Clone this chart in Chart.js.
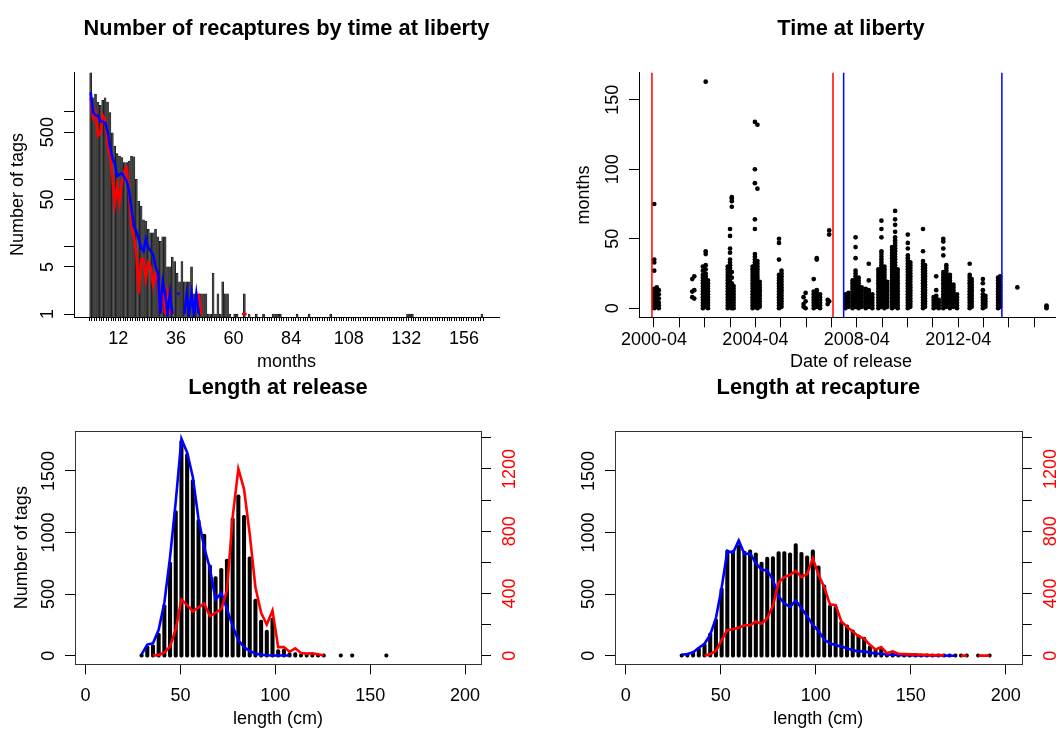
<!DOCTYPE html>
<html>
<head>
<meta charset="utf-8">
<script src="https://cdn.jsdelivr.net/npm/chart.js@4.4.1/dist/chart.umd.min.js"></script>
<style>
  html, body { margin: 0; padding: 0; background: #fff; width: 1056px; height: 729px; overflow: hidden; }
  canvas { position: absolute; left: 0; top: 0; }
</style>
</head>
<body>
<canvas id="c1" width="1100" height="729"></canvas>
<canvas id="c2" width="1100" height="729"></canvas>
<canvas id="c3" width="1100" height="729"></canvas>
<canvas id="c4" width="1100" height="729"></canvas>
<script>
// ---- panel 1: recaptures by months at liberty (log axis) ----
const recapCounts = [3800, 1620, 1820, 1400, 1250, 1480, 1620, 1400, 975, 490,
  310, 240, 220, 210, 176, 176, 186, 220, 215, 100,
  47, 40, 25, 24, 18, 16, 16, 18, 14, 12,
  14, 14, 5, 5, 7, 6, 4, 3, 6, 3,
  3, 3, 5, 2, 2, 2, 2, 2, 2, 1,
  1, 4, 1, 2, 1, 3, 2, 2];
const tailMonths = [59, 61, 62, 65, 67, 70, 73, 77, 78, 79, 80, 87, 92, 101, 133, 134, 135, 164];
const tailCounts = [1, 1, 1, 2, 1, 1, 1, 1, 1, 1, 1, 1, 1, 1, 1, 1, 1, 1];
const blueMonthly = [1960, 980, 890, 870, 730, 710, 690, 520, 310, 210,
  175, 112, 118, 122, 106, 94, 67, 36, 20, 17,
  13, 9.6, 8.6, 13, 9.6, 8.6, 7.7, 5, 4, 1,
  3, 2, 1, 2, 1, null, 2, 2, null, 1,
  2, 1, 2, 1, 2, 1];
const redMonthly = [1620, 820, 970, 440, 490, 890, 775, 350, 220, 112,
  42, 80, 45, 92, 131, 148, 63, 20, 14, 8,
  2, 6.5, 6.5, 3.3, 5.8, 5, 2.7, 4, 3, 1,
  3, 1, 2, 1, null, null, null, null, null, null,
  null, null, null, null, null, 2, 1, null, null, null,
  null, null, null, null, null, null, null, null, null, null,
  null, null, null, 1, 1, 1];
const logTicks = [1, 5, 10, 50, 100, 500, 1000];
const logLabels = [1, 5, 50, 500];
const monthLabels = [12, 36, 60, 84, 108, 132, 156];

// ---- panel 2: time at liberty by release date ----
const relDate = [2000.26, 2000.36, 2000.44, 2001.76, 2001.84, 2002.18, 2002.29, 2002.38,
  2003.16, 2003.25, 2003.32, 2003.39, 2004.14, 2004.23, 2004.33, 2004.42, 2005.18, 2005.28,
  2006.15, 2006.23, 2006.55, 2006.67, 2006.8, 2007.1, 2007.16, 2007.8, 2007.92,
  2008.08, 2008.2, 2008.32, 2008.44, 2008.6, 2008.72, 2008.86,
  2009.1, 2009.22, 2009.34, 2009.45, 2009.64, 2009.76, 2009.86,
  2010.26, 2010.36, 2010.86, 2010.94, 2011.28, 2011.38, 2011.48,
  2011.66, 2011.78, 2011.92, 2012.06, 2012.2, 2012.7, 2012.78,
  2013.22, 2013.32, 2013.82, 2013.9, 2014.58, 2015.73];
const libMonths = [
  [0, 2, 4, 6, 8, 10, 12, 14, 27, 33, 35, 75],
  [1, 3, 5, 7, 9, 11, 13, 15],
  [0, 2, 4, 7, 10, 13],
  [8, 12, 21],
  [7, 13, 23],
  [0, 2, 4, 6, 8, 10, 12, 14, 16, 18, 20, 22, 24, 27, 30],
  [1, 3, 5, 7, 9, 11, 13, 15, 17, 19, 21, 23, 25, 28, 31, 39, 41, 163],
  [0, 2, 4, 6, 8, 10, 12, 14, 16, 18, 20],
  [0, 2, 4, 6, 8, 10, 12, 14, 16, 18, 20, 22, 24, 26, 28, 30],
  [1, 3, 5, 7, 9, 11, 13, 15, 17, 19, 21, 23, 25, 27, 29, 31, 33, 35, 40, 43, 52, 57],
  [0, 3, 6, 9, 12, 15, 18, 22, 26, 73, 77, 79, 80],
  [0, 2, 4, 6, 8, 10, 12, 14, 16],
  [0, 2, 4, 6, 8, 10, 12, 14, 16, 18, 20, 22, 24, 26, 28, 30],
  [1, 3, 5, 7, 9, 11, 13, 15, 17, 19, 21, 23, 25, 27, 29, 31, 33, 35, 37, 39, 57, 64, 90, 100, 134],
  [0, 2, 4, 6, 8, 10, 12, 14, 16, 18, 20, 22, 24, 26, 28, 30, 32, 34, 86, 132],
  [1, 3, 5, 7, 9, 11, 13, 15, 17, 19],
  [0, 2, 4, 6, 8, 10, 12, 14, 16, 18, 20, 22, 24, 35, 47, 50],
  [1, 3, 5, 7, 9, 11, 13, 15, 17, 19, 21, 23, 25, 27],
  [1, 3, 8],
  [0, 5, 11],
  [0, 2, 4, 6, 8, 10, 12, 21],
  [1, 3, 5, 7, 9, 11, 13, 35, 36],
  [0, 2, 4, 6, 8, 10],
  [3, 6],
  [5, 53, 56],
  [0, 2, 4, 6, 8, 10],
  [1, 3, 5, 7, 9, 11],
  [0, 2, 4, 6, 8, 10, 12, 14, 16, 18, 20],
  [1, 3, 5, 7, 9, 11, 13, 15, 17, 19, 21, 23, 25, 27, 36, 44, 51],
  [0, 2, 4, 6, 8, 10, 12, 14, 16, 18, 20, 22],
  [1, 3, 5, 7, 9, 11, 13, 15],
  [0, 2, 4, 6, 8, 10, 12, 14],
  [1, 3, 5, 7, 9, 11, 13, 20, 32],
  [0, 2, 4, 6, 8, 10],
  [0, 2, 4, 6, 8, 10, 12, 14, 16, 18, 20, 22, 24, 26, 28],
  [1, 3, 5, 7, 9, 11, 13, 15, 17, 19, 21, 23, 25, 27, 29, 31, 33, 35, 37, 39, 41, 51, 57, 63],
  [0, 2, 4, 6, 8, 10, 12, 14, 16, 18, 20, 22, 24, 26, 28, 30],
  [1, 3, 5, 7, 9, 11, 13, 15, 17, 19],
  [0, 2, 4, 6, 8, 10, 12, 14, 16, 18, 20, 22, 24, 26, 28, 30, 32, 34, 36, 38, 40, 42, 44],
  [1, 3, 5, 7, 9, 11, 13, 15, 17, 19, 21, 23, 25, 27, 29, 31, 33, 35, 37, 39, 41, 43, 45, 47, 49, 51, 55, 60, 64, 70],
  [0, 2, 4, 6, 8, 10, 12, 14, 16, 18, 20, 22, 24, 26, 28],
  [0, 2, 4, 6, 8, 10, 12, 14, 16, 18, 20, 22, 24, 26, 28, 30, 32, 34, 36, 38, 43, 47, 53],
  [1, 3, 5, 7, 9, 11, 13, 15, 17, 19, 21, 23, 25, 27, 29, 31, 33],
  [0, 2, 4, 6, 8, 10, 12, 14, 16, 18, 20, 22, 24, 26, 28, 30, 32, 34, 41, 57],
  [1, 3, 5, 7, 9, 11, 13, 15, 17, 19, 21, 23, 25, 27, 29, 31],
  [0, 2, 4, 6, 8],
  [1, 3, 5, 7, 9, 13, 23],
  [0, 2, 4, 6],
  [0, 2, 4, 6, 8, 10, 12, 14, 16, 18, 20, 22, 24, 26, 38, 43, 48, 50],
  [1, 3, 5, 7, 9, 11, 13, 15, 17, 19, 21, 23, 25, 27, 29, 31],
  [0, 2, 4, 6, 8, 10, 12, 14, 16, 18, 20, 22, 24],
  [1, 3, 5, 7, 9, 11, 13, 15, 17],
  [0, 2, 4, 6, 8, 10],
  [0, 2, 4, 6, 8, 10, 12, 14, 16, 18, 20, 22, 24, 32],
  [1, 3, 5, 7, 9, 11, 13, 15, 17, 19, 21],
  [0, 2, 4, 6, 8, 10, 13, 18, 21],
  [1, 3, 5, 7, 9],
  [0, 2, 4, 6, 8, 10, 12, 14, 16, 18, 20, 22],
  [1, 3, 5, 7, 9, 11, 13, 15, 17, 19, 21, 23],
  [15],
  [0, 1, 2]
];
const cutRed = [2000.17, 2007.31];
const cutBlue = [2007.73, 2013.97];
const yearTicks = [2000.25, 2001.25, 2002.25, 2003.25, 2004.25, 2005.25, 2006.25, 2007.25,
  2008.25, 2009.25, 2010.25, 2011.25, 2012.25, 2013.25, 2014.25, 2015.25, 2016.25];
const yearLabelAt = [2000.25, 2004.25, 2008.25, 2012.25];
const yearLabels = ['2000-04', '2004-04', '2008-04', '2012-04'];
const libTicks = [0, 50, 100, 150];

// ---- panels 3 & 4: length frequencies (3 cm classes) ----
const lenBins = [29.5, 32.5, 35.5, 38.5, 41.5, 44.5, 47.5, 50.5, 53.5, 56.5,
  59.5, 62.5, 65.5, 68.5, 71.5, 74.5, 77.5, 80.5, 83.5, 86.5,
  89.5, 92.5, 95.5, 98.5, 101.5, 104.5, 107.5, 110.5, 113.5, 116.5,
  119.5, 122.5, 125.5, 128.5, 131.5, 134.5, 137.5, 140.5, 143.5, 146.5,
  149.5, 152.5, 155.5, 158.5, 161.5, 164.5, 167.5, 170.5, 173.5, 176.5,
  179.5, 182.5, 185.5, 188.5, 191.5];
const relTags = [16, 80, 89, 184, 413, 760, 1178, 1750, 1640, 1430,
  1105, 988, 737, 643, 710, 785, 1120, 1305, 1140, 803,
  460, 290, 208, 306, 49, 54, 25, 25, 14, 11,
  11, 8, 5, null, null, 2, null, 2, null, null,
  null, null, null, 2];
const relBlue = [10, 90, 100, 210, 430, 800, 1250, 1760, 1650, 1450,
  1110, 880, 710, 455, 508, 380, 240, 125, 70, 38,
  18, 8, 4, 2, 1, 1, 1];
const relRed = [null, null, 0, 5, 20, 60, 170, 360, 325, 285,
  310, 335, 255, 275, 300, 420, 890, 1200, 1070, 780,
  440, 275, 200, 290, 55, 55, 25, 47, 17, 13,
  15, 9, 1];
const recTags = [8, 16, 35, 65, 100, 185, 300, 550, 860, 855,
  900, 850, 860, 835, 760, 800, 805, 845, 845, 835,
  910, 840, 810, 860, 730, 575, 410, 400, 280, 250,
  210, 170, 150, 80, 55, 62, 25, 30, 16, 12,
  10, 8, 6, 5, 4, 3, 3, 2, 2, 2,
  2, null, 2, null, 2];
const recBlue = [8, 14, 27, 65, 97, 170, 305, 550, 850, 835,
  935, 825, 830, 750, 700, 690, 615, 480, 425, 395,
  450, 385, 320, 250, 200, 130, 100, 85, 75, 60,
  45, 35, 35, 25, 18, 16, 10, 8, 5, 4,
  3, 2, 2, 1, 1, 1, 1, 0, 0];
const recRed = [null, null, null, null, 0, 10, 30, 100, 165, 170,
  180, 195, 195, 220, 205, 240, 320, 470, 505, 520,
  545, 505, 525, 625, 520, 440, 330, 325, 220, 185,
  155, 125, 110, 70, 40, 55, 15, 28, 12, 10,
  8, 8, 6, 5, 3, 4, 2, null, null, 0,
  0, null, 0, 0, 0];
const lenTicks = [0, 50, 100, 150, 200];
const tagTicks = [0, 500, 1000, 1500];
const redTicks = [0, 200, 400, 600, 800, 1000, 1200, 1400];
const redLabels = [0, 400, 800, 1200];

// ---- helpers ----
const FONT = '"Liberation Sans", Arial, Helvetica, sans-serif';
Chart.defaults.font.family = FONT;
const CW = 1100, CH = 729;

function pad(l, t, r, b, withRight) {
  return { left: l - 20, top: t, right: CW - r - (withRight ? 20 : 0), bottom: CH - b - 20 };
}
const fitAxis = s => { if (s.isHorizontal()) s.height = 20; else s.width = 20; };
const setTicks = vals => s => { s.ticks = vals.map(v => ({ value: v })); };

function axis(opts, tickLen, showBorder) {
  return Object.assign({
    type: 'linear',
    offset: false,
    grid: { drawOnChartArea: false, drawTicks: true, tickLength: tickLen || 10, color: '#000', lineWidth: 1, offset: false },
    border: { display: !!showBorder, color: '#000', width: 1 },
    ticks: { display: false },
    afterFit: fitAxis
  }, opts);
}

const rText = {
  id: 'rText',
  afterDraw(chart, args, o) {
    const ctx = chart.ctx, a = chart.chartArea;
    const sx = chart.scales.x, sy = chart.scales.y;
    const cx = (a.left + a.right) / 2;
    ctx.save();
    if (o.box) {
      ctx.strokeStyle = '#333';
      ctx.lineWidth = 1;
      ctx.strokeRect(Math.round(a.left) + 0.5, Math.round(a.top) + 0.5,
        Math.round(a.right - a.left), Math.round(a.bottom - a.top));
    }
    ctx.fillStyle = '#000';
    ctx.textAlign = 'center';
    ctx.textBaseline = 'alphabetic';
    ctx.font = 'bold 21.8px ' + FONT;
    ctx.fillText(o.title, cx, o.titleY);
    ctx.font = '18px ' + FONT;
    o.xLabels.forEach(([v, t]) => ctx.fillText(t, sx.getPixelForValue(v), a.bottom + o.xLabelGap));
    ctx.fillText(o.xTitle, cx, a.bottom + o.xTitleGap);
    const vtext = (t, x, y, color) => {
      ctx.save();
      ctx.translate(x, y);
      ctx.rotate(-Math.PI / 2);
      ctx.fillStyle = color || '#000';
      ctx.fillText(t, 0, 0);
      ctx.restore();
    };
    o.yLabels.forEach(v => vtext(String(v), a.left - 21.5, sy.getPixelForValue(v)));
    if (o.yTitle) vtext(o.yTitle, o.yTitleX, (a.top + a.bottom) / 2);
    if (o.y1Labels) {
      const s1 = chart.scales.y1;
      o.y1Labels.forEach(v => vtext(String(v), a.right + 34, s1.getPixelForValue(v), '#ff0000'));
    }
    ctx.restore();
  }
};

const common = {
  responsive: false,
  devicePixelRatio: 1,
  animation: false,
  events: []
};

// ---- panel 1 ----
const monthTicks = [];
for (let m = 0; m <= 164; m++) monthTicks.push(m);

const recapBars = recapCounts.map((c, i) => ({ x: i + 0.5, y: c }))
  .concat(tailMonths.map((m, i) => ({ x: m - 0.5, y: tailCounts[i] })));

new Chart(document.getElementById('c1'), {
  type: 'bar',
  data: {
    datasets: [
      { type: 'line', data: blueMonthly.map((v, i) => ({ x: i + 0.5, y: v })), borderColor: '#0000ff',
        borderWidth: 2.6, pointRadius: 0, order: 1 },
      { type: 'line', data: redMonthly.map((v, i) => ({ x: i + 0.5, y: v })), borderColor: '#ff0000',
        borderWidth: 2.6, pointRadius: 0, order: 2 },
      { data: recapBars, backgroundColor: '#444', borderColor: '#000', borderWidth: 0.5,
        barThickness: 2.0, order: 3 }
    ]
  },
  options: Object.assign({}, common, {
    layout: { padding: pad(74, 72, 499, 317), autoPadding: false },
    plugins: {
      legend: { display: false }, tooltip: { enabled: false },
      rText: {
        title: 'Number of recaptures by time at liberty', titleY: 34.5,
        xLabels: monthLabels.map(v => [v, String(v)]), xLabelGap: 27,
        xTitle: 'months', xTitleGap: 49.7,
        yLabels: logLabels, yTitle: 'Number of tags', yTitleX: 23
      }
    },
    scales: {
      x: axis({ min: -6.46, max: 170.6, afterBuildTicks: setTicks(monthTicks) }, 4, true),
      y: axis({ type: 'logarithmic', min: 0.903, max: 3900, afterBuildTicks: setTicks(logTicks) }, 10, true)
    }
  }),
  plugins: [rText]
});

// ---- panel 2 ----
const libPoints = relDate.flatMap((d, i) => libMonths[i].map(m => ({ x: d, y: m })));
const vline = (d, color) => ({
  type: 'line', data: [{ x: d, y: -6.5 }, { x: d, y: 169.5 }],
  borderColor: color, borderWidth: 1.5, pointRadius: 0, order: 1
});

new Chart(document.getElementById('c2'), {
  type: 'scatter',
  data: {
    datasets: cutRed.map(d => vline(d, '#ff0000'))
      .concat(cutBlue.map(d => vline(d, '#0000ff')))
      .concat([{ data: libPoints, pointRadius: 2.35, pointBackgroundColor: '#000', backgroundColor: '#000',
        pointBorderWidth: 0, borderWidth: 0, order: 2 }])
  },
  options: Object.assign({}, common, {
    layout: { padding: pad(639, 72.6, 1063, 317.3), autoPadding: false },
    plugins: {
      legend: { display: false }, tooltip: { enabled: false },
      rText: {
        title: 'Time at liberty', titleY: 34.5,
        xLabels: yearLabelAt.map((v, i) => [v, yearLabels[i]]), xLabelGap: 27.5,
        xTitle: 'Date of release', xTitleGap: 50,
        yLabels: libTicks, yTitle: 'months', yTitleX: 589
      }
    },
    scales: {
      x: axis({ min: 1999.66, max: 2016.38, afterBuildTicks: setTicks(yearTicks) }, 10, true),
      y: axis({ min: -6.5, max: 169.5, afterBuildTicks: setTicks(libTicks) }, 10, true)
    }
  }),
  plugins: [rText]
});

// ---- panels 3 & 4 ----
function lengthChart(id, tags, blue, red, area, text) {
  return new Chart(document.getElementById(id), {
    type: 'bar',
    data: {
      datasets: [
        { type: 'line', yAxisID: 'y1', data: red.map((v, i) => ({ x: lenBins[i], y: v })),
          borderColor: '#ff0000', borderWidth: 2.6, pointRadius: 0, order: 1 },
        { type: 'line', yAxisID: 'y', data: blue.map((v, i) => ({ x: lenBins[i], y: v })),
          borderColor: '#0000ff', borderWidth: 2.6, pointRadius: 0, order: 2 },
        { yAxisID: 'y', data: tags.map((v, i) => ({ x: lenBins[i], y: v })), backgroundColor: '#000',
          barThickness: 3.4, borderRadius: 1.7, borderSkipped: false, base: -12, minBarLength: 3.4, order: 3 }
      ]
    },
    options: Object.assign({}, common, {
      layout: { padding: pad(area[0], area[1], area[2], area[3], true), autoPadding: false },
      plugins: { legend: { display: false }, tooltip: { enabled: false }, rText: text },
      scales: {
        x: axis({ min: -5.6, max: 208.4, afterBuildTicks: setTicks(lenTicks) }),
        y: axis({ min: -70, max: 1824, afterBuildTicks: setTicks(tagTicks) }),
        y1: axis({ position: 'right', min: -55.5, max: 1443.5, afterBuildTicks: setTicks(redTicks) })
      }
    }),
    plugins: [rText]
  });
}

lengthChart('c3', relTags, relBlue, relRed, [75, 431, 481, 664.3], {
  box: true, title: 'Length at release', titleY: 394,
  xLabels: lenTicks.map(v => [v, String(v)]), xLabelGap: 36.2,
  xTitle: 'length (cm)', xTitleGap: 59.7,
  yLabels: tagTicks, yTitle: 'Number of tags', yTitleX: 27, y1Labels: redLabels
});

lengthChart('c4', recTags, recBlue, recRed, [615, 431, 1021.7, 664.3], {
  box: true, title: 'Length at recapture', titleY: 394,
  xLabels: lenTicks.map(v => [v, String(v)]), xLabelGap: 36.2,
  xTitle: 'length (cm)', xTitleGap: 59.7,
  yLabels: tagTicks, y1Labels: redLabels
});
</script>
</body>
</html>
